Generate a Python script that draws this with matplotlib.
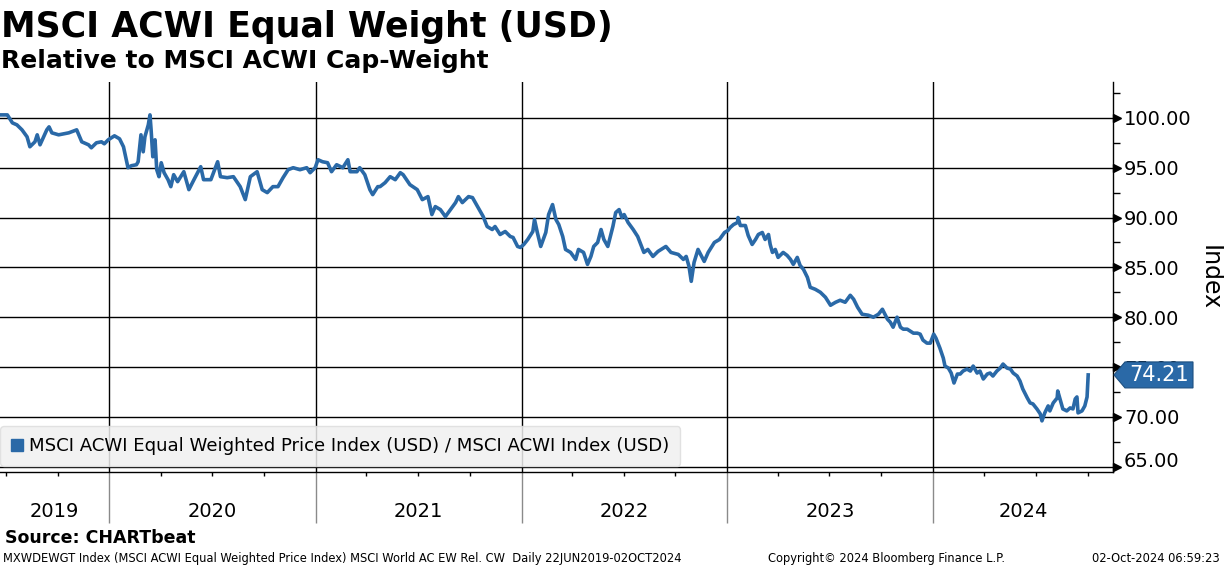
import matplotlib
matplotlib.use("Agg")
import matplotlib.pyplot as plt
import matplotlib.dates as mdates
import matplotlib.transforms as mtransforms
from matplotlib.lines import Line2D
from matplotlib.patches import Polygon
from matplotlib.ticker import FixedLocator, NullFormatter
import pandas as pd

# Ratio MSCI ACWI Equal Weighted / MSCI ACWI
dates = [
    "2019-06-22", "2019-07-04", "2019-07-13", "2019-07-21", "2019-07-30", "2019-08-08",
    "2019-08-13", "2019-08-22", "2019-08-26", "2019-08-31", "2019-09-12", "2019-09-16",
    "2019-09-21", "2019-10-03", "2019-10-21", "2019-11-04", "2019-11-13", "2019-11-25",
    "2019-11-30", "2019-12-09", "2019-12-18", "2019-12-23", "2019-12-30",
    "2020-01-10", "2020-01-19", "2020-01-26", "2020-01-31", "2020-02-03", "2020-02-09",
    "2020-02-18", "2020-02-21", "2020-02-26", "2020-03-01", "2020-03-04", "2020-03-10",
    "2020-03-13", "2020-03-15", "2020-03-18", "2020-03-22", "2020-03-25", "2020-03-29",
    "2020-04-02", "2020-04-07", "2020-04-14", "2020-04-19", "2020-04-24", "2020-05-01",
    "2020-05-12", "2020-05-21", "2020-05-30", "2020-06-11", "2020-06-16", "2020-06-29",
    "2020-07-11", "2020-07-16", "2020-07-28", "2020-08-08", "2020-08-20", "2020-08-29",
    "2020-09-07", "2020-09-19", "2020-09-28", "2020-10-07", "2020-10-17", "2020-10-26",
    "2020-11-04", "2020-11-13", "2020-11-22", "2020-12-04", "2020-12-16", "2020-12-22",
    "2020-12-31",
    "2021-01-05", "2021-01-13", "2021-01-22", "2021-01-29", "2021-02-07", "2021-02-18",
    "2021-02-27", "2021-03-03", "2021-03-15", "2021-03-20", "2021-03-29", "2021-04-07",
    "2021-04-12", "2021-04-21", "2021-04-25", "2021-05-04", "2021-05-13", "2021-05-22",
    "2021-05-31", "2021-06-05", "2021-06-17", "2021-06-30", "2021-07-09", "2021-07-19",
    "2021-07-26", "2021-08-01", "2021-08-10", "2021-08-19", "2021-08-28", "2021-09-06",
    "2021-09-11", "2021-09-18", "2021-09-29", "2021-10-06", "2021-10-16", "2021-10-25",
    "2021-11-01", "2021-11-10", "2021-11-15", "2021-11-24", "2021-12-03", "2021-12-12",
    "2021-12-17", "2021-12-25", "2021-12-30",
    "2022-01-05", "2022-01-12", "2022-01-21", "2022-01-24", "2022-01-29", "2022-02-04",
    "2022-02-13", "2022-02-18", "2022-02-25", "2022-03-03", "2022-03-08", "2022-03-15",
    "2022-03-20", "2022-03-29", "2022-04-07", "2022-04-12", "2022-04-21", "2022-04-28",
    "2022-05-04", "2022-05-09", "2022-05-16", "2022-05-22", "2022-05-27", "2022-06-03",
    "2022-06-12", "2022-06-17", "2022-06-23", "2022-06-28", "2022-07-02", "2022-07-09",
    "2022-07-18", "2022-07-26", "2022-08-06", "2022-08-13", "2022-08-22", "2022-08-31",
    "2022-09-14", "2022-09-23", "2022-10-06", "2022-10-15", "2022-10-20", "2022-10-25",
    "2022-10-29", "2022-11-03", "2022-11-10", "2022-11-21", "2022-11-28", "2022-12-09",
    "2022-12-18", "2022-12-27",
    "2023-01-02", "2023-01-06", "2023-01-12", "2023-01-19", "2023-01-20", "2023-01-24",
    "2023-02-02", "2023-02-07", "2023-02-14", "2023-02-20", "2023-02-25", "2023-03-04",
    "2023-03-09", "2023-03-15", "2023-03-18", "2023-03-22", "2023-03-27", "2023-04-01",
    "2023-04-10", "2023-04-17", "2023-04-23", "2023-04-28", "2023-05-05", "2023-05-10",
    "2023-05-16", "2023-05-23", "2023-05-28", "2023-06-06", "2023-06-15", "2023-06-24",
    "2023-07-03", "2023-07-12", "2023-07-20", "2023-07-29", "2023-08-07", "2023-08-13",
    "2023-08-20", "2023-08-28", "2023-09-08", "2023-09-17", "2023-09-26", "2023-10-03",
    "2023-10-12", "2023-10-17", "2023-10-22", "2023-10-29", "2023-11-04", "2023-11-09",
    "2023-11-16", "2023-11-27", "2023-12-04", "2023-12-09", "2023-12-14", "2023-12-21",
    "2023-12-27",
    "2024-01-02", "2024-01-06", "2024-01-13", "2024-01-19", "2024-01-22", "2024-01-28",
    "2024-02-02", "2024-02-07", "2024-02-13", "2024-02-18", "2024-02-23", "2024-03-01",
    "2024-03-07", "2024-03-12", "2024-03-19", "2024-03-24", "2024-03-30", "2024-04-06",
    "2024-04-11", "2024-04-16", "2024-04-23", "2024-04-29", "2024-05-04", "2024-05-11",
    "2024-05-17", "2024-05-22", "2024-05-29", "2024-06-03", "2024-06-08", "2024-06-16",
    "2024-06-21", "2024-06-26", "2024-07-03", "2024-07-09", "2024-07-12", "2024-07-17",
    "2024-07-23", "2024-07-26", "2024-08-01", "2024-08-08", "2024-08-09", "2024-08-13",
    "2024-08-18", "2024-08-25", "2024-08-31", "2024-09-05", "2024-09-09", "2024-09-12",
    "2024-09-14", "2024-09-21", "2024-09-26", "2024-09-30", "2024-10-02",
]
values = [
    100.3, 100.3, 99.5, 99.3, 98.8, 98.1,
    97.1, 97.6, 98.3, 97.3, 98.8, 99.1,
    98.5, 98.3, 98.5, 98.8, 97.6, 97.3,
    97.0, 97.5, 97.6, 97.4, 97.8,
    98.2, 97.9, 97.1, 95.8, 95.0, 95.2,
    95.3, 95.6, 98.3, 96.6, 98.1, 99.3,
    100.3, 98.8, 96.1, 97.8, 94.8, 94.1,
    95.5, 94.5, 93.8, 93.1, 94.3, 93.6,
    94.6, 92.8, 93.8, 95.1, 93.8, 93.8,
    95.6, 94.1, 94.0, 94.1, 93.1, 91.8,
    94.1, 94.6, 92.8, 92.5, 93.1, 93.1,
    94.0, 94.8, 95.0, 94.8, 95.0, 94.5,
    95.0,
    95.8, 95.6, 95.5, 94.6, 95.3, 95.0,
    95.8, 94.6, 94.6, 95.0, 94.3, 92.8,
    92.3, 93.1, 93.1, 93.5, 94.1, 93.8,
    94.5, 94.3, 93.3, 92.8, 91.8, 92.1,
    90.3, 91.1, 90.8, 90.1, 90.8, 91.5,
    92.1, 91.5, 92.1, 92.0, 91.0, 90.1,
    89.1, 88.8, 89.1, 88.3, 88.6, 88.1,
    88.0, 87.1, 87.0,
    87.3, 87.8, 88.6, 89.8, 88.5, 87.1,
    88.5, 90.3, 91.3, 89.8, 89.3, 88.1,
    86.8, 86.5, 85.8, 86.8, 86.5, 85.3,
    86.1, 87.1, 87.5, 88.8, 87.8, 87.1,
    89.1, 90.5, 90.8, 90.0, 90.3, 89.5,
    88.8, 88.1, 86.5, 86.8, 86.1, 86.6,
    87.1, 86.5, 86.3, 85.8, 86.1, 85.1,
    83.6, 85.5, 86.8, 85.6, 86.5, 87.5,
    87.8, 88.5,
    88.7, 89.0, 89.3, 89.5, 90.0, 89.2,
    89.2, 88.2, 87.3, 87.8, 88.3, 88.5,
    87.8, 88.3, 87.3, 86.5, 86.8, 86.0,
    86.5, 86.2, 85.8, 85.3, 86.0, 85.2,
    84.8, 84.0, 83.0, 82.8, 82.5, 82.0,
    81.2, 81.5, 81.7, 81.5, 82.2, 81.8,
    81.0, 80.3, 80.2, 80.0, 80.3, 80.8,
    79.8, 79.5, 79.0, 80.0, 79.0, 78.8,
    78.8, 78.4, 78.4, 78.3, 77.7, 77.4,
    77.4,
    78.3, 77.9, 76.9, 75.9, 75.1, 74.9,
    74.4, 73.4, 74.3, 74.3, 74.6, 74.8,
    74.6, 75.1, 74.4, 74.6, 73.8, 74.3,
    74.4, 74.1, 74.6, 74.9, 75.3, 74.9,
    74.8, 74.4, 74.1, 73.6, 72.8, 71.9,
    71.4, 71.3, 70.8, 70.3, 69.6, 70.4,
    71.1, 70.6, 71.4, 71.9, 72.6, 71.8,
    70.8, 70.6, 70.9, 70.8, 71.8, 72.0,
    70.4, 70.6, 71.1, 72.0, 74.21,
]

years = [2019, 2020, 2021, 2022, 2023, 2024]
y_ticks = [65, 70, 75, 80, 85, 90, 95, 100]

title = "MSCI ACWI Equal Weight (USD)"
subtitle = "Relative to MSCI ACWI Cap-Weight"
series_label = "MSCI ACWI Equal Weighted Price Index (USD) / MSCI ACWI Index (USD)"
source = "Source: CHARTbeat"
footer_left = ("MXWDEWGT Index (MSCI ACWI Equal Weighted Price Index) MSCI World AC EW Rel. CW  "
               "Daily 22JUN2019-02OCT2024")
footer_mid = "Copyright\u00a9 2024 Bloomberg Finance L.P."
footer_right = "02-Oct-2024 06:59:23"

BLUE = "#2a69a7"
W, H = 1224, 566

plt.rcParams["font.family"] = ["DejaVu Sans"]

df = pd.DataFrame({"date": pd.to_datetime(dates), "value": values})

fig = plt.figure(figsize=(W / 100, H / 100), dpi=100)
ax_top, ax_bot, ax_right = 82, 471.7, 1113
ax = fig.add_axes([0, 1 - ax_bot / H, ax_right / W, (ax_bot - ax_top) / H])

ax.plot(df["date"], df["value"], color=BLUE, lw=2.6, solid_joinstyle="round", zorder=3)

x0, x1 = pd.Timestamp("2019-06-21"), pd.Timestamp("2024-11-15")
ax.set_xlim(x0, x1)
ax.set_ylim(64.5, 103.6)

# y axis on the right
ax.yaxis.tick_right()
ax.set_yticks(y_ticks)
ax.set_yticklabels([f"{v:.2f}" for v in y_ticks])
ax.get_yticklabels()[0].set_va("baseline")
ax.yaxis.set_minor_locator(FixedLocator([v + 2.5 for v in y_ticks]))
ax.tick_params(axis="y", which="major", length=0, pad=8, labelsize=14)
ax.tick_params(axis="y", which="minor", length=5, width=1, direction="out")
ax.grid(axis="y", which="major", color="black", lw=1.0)

# arrow-shaped major ticks
arrow_tr = ax.get_yaxis_transform() + mtransforms.ScaledTranslation(4 / 100, 0, fig.dpi_scale_trans)
ax.plot([1] * len(y_ticks), y_ticks, transform=arrow_tr, ls="none", marker=">",
        ms=6, color="black", clip_on=False, zorder=5)

# x axis: year separators and quarterly ticks
year_starts = [pd.Timestamp(f"{y}-01-01") for y in years[1:]]
ax.set_xticks(year_starts)
ax.xaxis.set_major_formatter(NullFormatter())
ax.xaxis.set_minor_locator(mdates.MonthLocator(bymonth=[4, 7, 10]))
ax.tick_params(axis="x", which="major", length=37, width=1, color="#8a8a8a")
ax.tick_params(axis="x", which="minor", length=3, width=1, color="black")
ax.grid(axis="x", which="major", color="black", lw=1.0)

for y in years:
    start = max(pd.Timestamp(f"{y}-01-01"), x0)
    end = min(pd.Timestamp(f"{y + 1}-01-01"), x1)
    mid = start + (end - start) / 2
    ax.text(mid, -0.101, str(y), transform=ax.get_xaxis_transform(),
            ha="center", va="center", fontsize=14)

for side in ["left", "top"]:
    ax.spines[side].set_visible(False)
ax.spines["bottom"].set_linewidth(1.0)
ax.spines["right"].set_linewidth(1.0)

handle = Line2D([], [], marker="s", color=BLUE, ls="none", ms=9)
leg = ax.legend([handle], [series_label], loc="lower left", bbox_to_anchor=(0, 0.0146),
                borderaxespad=0, handlelength=0.7, handletextpad=0.3, borderpad=0.6,
                prop={"size": 13.1}, fancybox=True, framealpha=0.85,
                facecolor="#f0f0f0", edgecolor="#dddddd")
leg.set_zorder(4)

# last value tag
fig.canvas.draw()
yc = ax.transData.transform((0, values[-1]))[1]
xr = ax.transAxes.transform((1, 0))[0]
tag = [(xr + 1, yc), (xr + 12, yc + 13), (xr + 80, yc + 13), (xr + 80, yc - 13), (xr + 12, yc - 13)]
fig.add_artist(Polygon([(px / W, py / H) for px, py in tag], closed=True,
                       transform=fig.transFigure, facecolor=BLUE, edgecolor="#1d4f80",
                       lw=0.8, zorder=6))
fig.text((xr + 46) / W, yc / H, f"{values[-1]:.2f}", color="white", fontsize=15,
         ha="center", va="center", zorder=7)

fig.text(1210 / W, 1 - 278 / H, "Index", rotation=270, fontsize=17, ha="center", va="center")

fig.text(1 / W, 1 - 37 / H, title, fontsize=25, weight="bold", va="baseline")
fig.text(1 / W, 1 - 68 / H, subtitle, fontsize=18, weight="bold", va="baseline")
fig.text(5 / W, 1 - 543 / H, source, fontsize=12.5, weight="bold", va="baseline")
fig.text(3 / W, 1 - 562 / H, footer_left, fontsize=8.3, va="baseline")
fig.text(768 / W, 1 - 562 / H, footer_mid, fontsize=8.3, va="baseline")
fig.text(1220 / W, 1 - 562 / H, footer_right, fontsize=8.3, va="baseline", ha="right")

fig.savefig("out.png", dpi=100)
